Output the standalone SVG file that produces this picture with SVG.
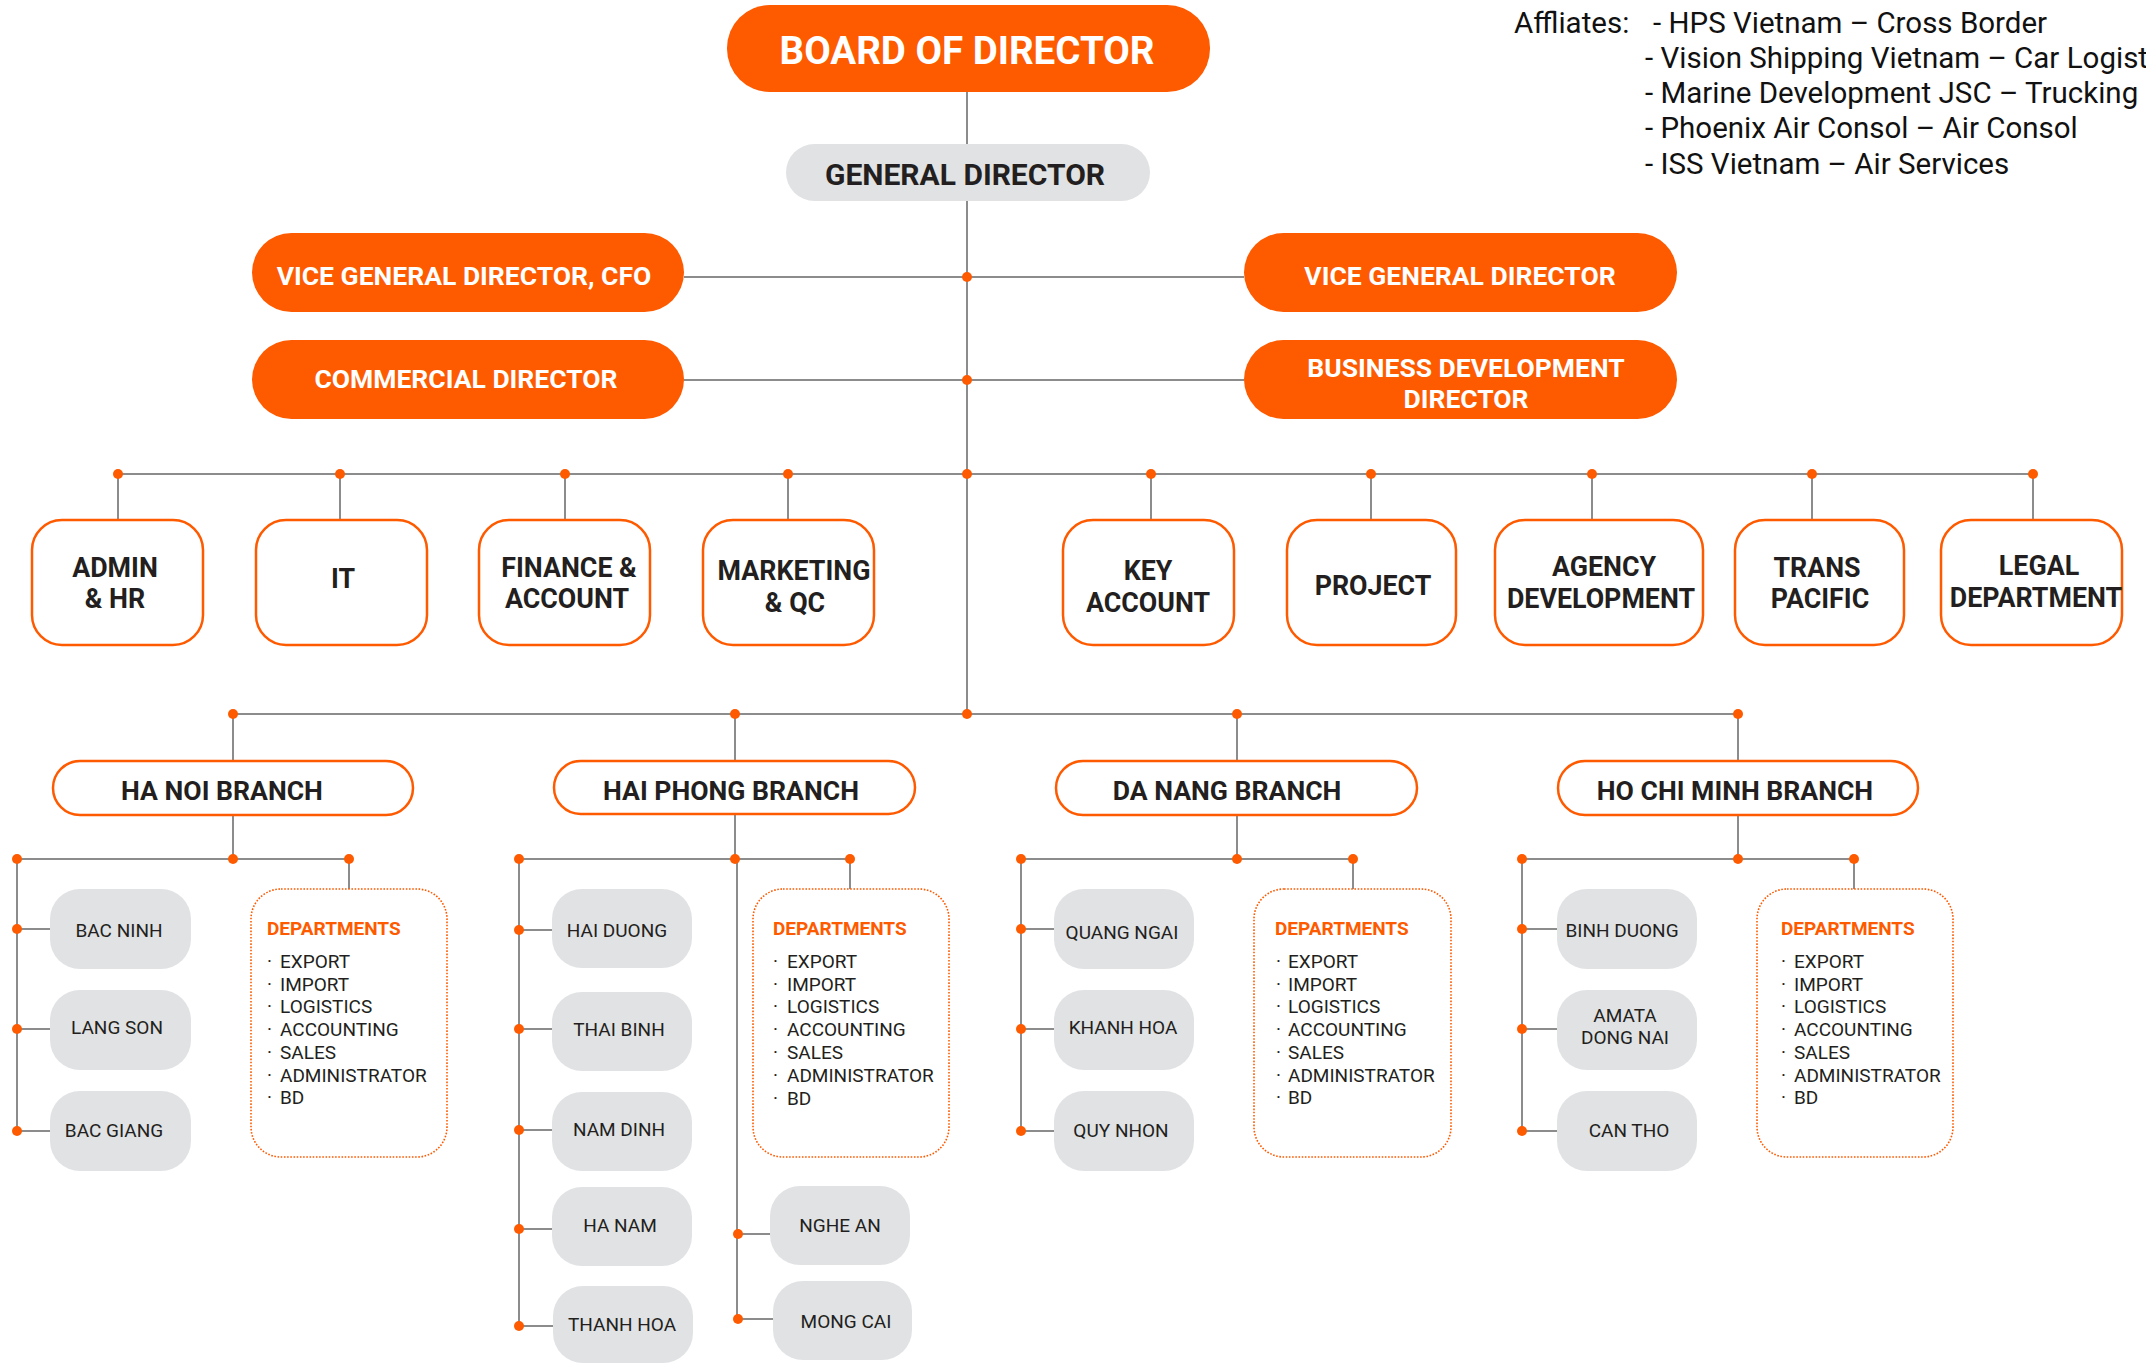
<svg xmlns="http://www.w3.org/2000/svg" width="2146" height="1363" viewBox="0 0 2146 1363">
<style>
text{font-family:Roboto,"Liberation Sans",Arial,sans-serif}
.bo{fill:#fe5a00}
.wt{font-weight:700;fill:#ffffff;text-anchor:middle}
.bt{font-weight:700;fill:#231f20;text-anchor:middle}
.ob{fill:#ffffff;stroke:#fe5a00;stroke-width:2.5}
.gb{fill:#e1e2e4}
.ct{font-size:19px;fill:#231f20;text-anchor:middle}
.db{fill:#ffffff;stroke:#fe5a00;stroke-width:1.6;stroke-dasharray:1.6 1.6}
.dh{font-size:19px;font-weight:700;fill:#fe5a00}
.dl{font-size:19px;fill:#231f20}
.ln{stroke:#8c8c8c;stroke-width:2;fill:none}
.dot{fill:#fe5a00}
.af{font-size:29.5px;fill:#111111}
.dp{font-size:26.8px}
.br{font-size:26.6px}
</style>
<rect width="2146" height="1363" fill="#ffffff"/>

<g id="connectors">
<path class="ln" d="M967 92V714"/>
<path class="ln" d="M684 277H1244M684 380H1244"/>
<path class="ln" d="M118 474H2034"/>
<path class="ln" d="M118 474V520M340 474V520M565 474V520M788 474V520M1151 474V520M1371 474V520M1592 474V520M1812 474V520M2033 474V520"/>
<path class="ln" d="M233 714H1738"/>
<path class="ln" d="M233 714V761M735 714V761M1237 714V761M1738 714V761"/>
<path class="ln" d="M233 815V859M17 859H349M349 859V889M17 859V1131M17 929H50M17 1029H50M17 1131H50"/>
<path class="ln" d="M735 814V859M519 859H850M850 859V889M519 859V1326M519 930H552M519 1029H552M519 1130H552M519 1229H552M519 1326H553M737 859V1319M737 1234H770M737 1319H773"/>
<path class="ln" d="M1237 815V859M1021 859H1353M1353 859V889M1021 859V1131M1021 929H1054M1021 1029H1054M1021 1131H1054"/>
<path class="ln" d="M1738 815V859M1522 859H1854M1854 859V889M1522 859V1131M1522 929H1557M1522 1029H1557M1522 1131H1557"/>
<g class="dot">
<circle cx="967" cy="277" r="5"/><circle cx="967" cy="380" r="5"/>
<circle cx="118" cy="474" r="5"/><circle cx="340" cy="474" r="5"/><circle cx="565" cy="474" r="5"/><circle cx="788" cy="474" r="5"/><circle cx="967" cy="474" r="5"/><circle cx="1151" cy="474" r="5"/><circle cx="1371" cy="474" r="5"/><circle cx="1592" cy="474" r="5"/><circle cx="1812" cy="474" r="5"/><circle cx="2033" cy="474" r="5"/>
<circle cx="233" cy="714" r="5"/><circle cx="735" cy="714" r="5"/><circle cx="967" cy="714" r="5"/><circle cx="1237" cy="714" r="5"/><circle cx="1738" cy="714" r="5"/>
<circle cx="17" cy="859" r="5"/><circle cx="233" cy="859" r="5"/><circle cx="349" cy="859" r="5"/><circle cx="17" cy="929" r="5"/><circle cx="17" cy="1029" r="5"/><circle cx="17" cy="1131" r="5"/>
<circle cx="519" cy="859" r="5"/><circle cx="735" cy="859" r="5"/><circle cx="850" cy="859" r="5"/><circle cx="519" cy="930" r="5"/><circle cx="519" cy="1029" r="5"/><circle cx="519" cy="1130" r="5"/><circle cx="519" cy="1229" r="5"/><circle cx="519" cy="1326" r="5"/><circle cx="738" cy="1234" r="5"/><circle cx="738" cy="1319" r="5"/>
<circle cx="1021" cy="859" r="5"/><circle cx="1237" cy="859" r="5"/><circle cx="1353" cy="859" r="5"/><circle cx="1021" cy="929" r="5"/><circle cx="1021" cy="1029" r="5"/><circle cx="1021" cy="1131" r="5"/>
<circle cx="1522" cy="859" r="5"/><circle cx="1738" cy="859" r="5"/><circle cx="1854" cy="859" r="5"/><circle cx="1522" cy="929" r="5"/><circle cx="1522" cy="1029" r="5"/><circle cx="1522" cy="1131" r="5"/>
</g>
</g>

<g id="board"><rect class="bo" x="727" y="5" width="483" height="87" rx="43"/><text class="wt" x="967" y="64" font-size="38.5">BOARD OF DIRECTOR</text></g>
<g id="general-director"><rect class="gb" x="786" y="144" width="364" height="57" rx="28.5"/><text class="bt" x="965" y="185" font-size="30">GENERAL DIRECTOR</text></g>
<g id="vgd-cfo"><rect class="bo" x="252" y="233" width="432" height="79" rx="39.5"/><text class="wt" x="464" y="285" font-size="26.5">VICE GENERAL DIRECTOR, CFO</text></g>
<g id="vgd"><rect class="bo" x="1244" y="233" width="433" height="79" rx="39.5"/><text class="wt" x="1460" y="285" font-size="26.5">VICE GENERAL DIRECTOR</text></g>
<g id="commercial-director"><rect class="bo" x="252" y="340" width="432" height="79" rx="39.5"/><text class="wt" x="466" y="388" font-size="26.5">COMMERCIAL DIRECTOR</text></g>
<g id="bd-director"><rect class="bo" x="1244" y="340" width="433" height="79" rx="39.5"/><text class="wt" font-size="26.5"><tspan x="1466" y="377">BUSINESS DEVELOPMENT</tspan><tspan x="1466" y="408">DIRECTOR</tspan></text></g>

<g id="admin-hr"><rect class="ob" x="32" y="520" width="171" height="125" rx="30"/><text class="bt dp"><tspan x="115" y="577">ADMIN</tspan><tspan x="115" y="608">&amp; HR</tspan></text></g>
<g id="it"><rect class="ob" x="256" y="520" width="171" height="125" rx="30"/><text class="bt dp" x="343" y="588">IT</text></g>
<g id="finance"><rect class="ob" x="479" y="520" width="171" height="125" rx="30"/><text class="bt dp"><tspan x="569" y="577">FINANCE &amp;</tspan><tspan x="567" y="608">ACCOUNT</tspan></text></g>
<g id="marketing"><rect class="ob" x="703" y="520" width="171" height="125" rx="30"/><text class="bt dp"><tspan x="794" y="580">MARKETING</tspan><tspan x="795" y="612">&amp; QC</tspan></text></g>
<g id="key-account"><rect class="ob" x="1063" y="520" width="171" height="125" rx="30"/><text class="bt dp"><tspan x="1148" y="580">KEY</tspan><tspan x="1148" y="612">ACCOUNT</tspan></text></g>
<g id="project"><rect class="ob" x="1287" y="520" width="169" height="125" rx="30"/><text class="bt dp" x="1373" y="595">PROJECT</text></g>
<g id="agency"><rect class="ob" x="1495" y="520" width="208" height="125" rx="30"/><text class="bt dp"><tspan x="1604" y="576">AGENCY</tspan><tspan x="1601" y="608">DEVELOPMENT</tspan></text></g>
<g id="trans-pacific"><rect class="ob" x="1735" y="520" width="169" height="125" rx="30"/><text class="bt dp"><tspan x="1817" y="577">TRANS</tspan><tspan x="1820" y="608">PACIFIC</tspan></text></g>
<g id="legal"><rect class="ob" x="1941" y="520" width="181" height="125" rx="30"/><text class="bt dp"><tspan x="2039" y="575">LEGAL</tspan><tspan x="2036" y="607">DEPARTMENT</tspan></text></g>

<g id="ha-noi-branch"><rect class="ob" x="53" y="761" width="360" height="54" rx="27"/><text class="bt br" x="222" y="800">HA NOI BRANCH</text></g>
<g id="hai-phong-branch"><rect class="ob" x="554" y="761" width="361" height="53" rx="26.5"/><text class="bt br" x="731" y="800">HAI PHONG BRANCH</text></g>
<g id="da-nang-branch"><rect class="ob" x="1056" y="761" width="361" height="54" rx="27"/><text class="bt br" x="1227" y="800">DA NANG BRANCH</text></g>
<g id="hcm-branch"><rect class="ob" x="1558" y="761" width="360" height="54" rx="27"/><text class="bt br" x="1735" y="800">HO CHI MINH BRANCH</text></g>

<g id="bac-ninh"><rect class="gb" x="50" y="889" width="141" height="80" rx="30"/><text class="ct" x="119" y="937">BAC NINH</text></g>
<g id="lang-son"><rect class="gb" x="50" y="990" width="141" height="80" rx="30"/><text class="ct" x="117" y="1034">LANG SON</text></g>
<g id="bac-giang"><rect class="gb" x="50" y="1091" width="141" height="80" rx="30"/><text class="ct" x="114" y="1137">BAC GIANG</text></g>
<g id="hn-departments"><rect class="db" x="251" y="889" width="196" height="268" rx="30"/>
<text class="dh" x="267" y="935">DEPARTMENTS</text>
<text class="dl"><tspan x="267" y="968">·</tspan><tspan x="280" y="968">EXPORT</tspan><tspan x="267" y="991">·</tspan><tspan x="280" y="991">IMPORT</tspan><tspan x="267" y="1013">·</tspan><tspan x="280" y="1013">LOGISTICS</tspan><tspan x="267" y="1036">·</tspan><tspan x="280" y="1036">ACCOUNTING</tspan><tspan x="267" y="1059">·</tspan><tspan x="280" y="1059">SALES</tspan><tspan x="267" y="1082">·</tspan><tspan x="280" y="1082">ADMINISTRATOR</tspan><tspan x="267" y="1104">·</tspan><tspan x="280" y="1104">BD</tspan></text></g>

<g id="hai-duong"><rect class="gb" x="552" y="889" width="140" height="79" rx="30"/><text class="ct" x="617" y="937">HAI DUONG</text></g>
<g id="thai-binh"><rect class="gb" x="552" y="992" width="140" height="79" rx="30"/><text class="ct" x="619" y="1036">THAI BINH</text></g>
<g id="nam-dinh"><rect class="gb" x="552" y="1092" width="140" height="79" rx="30"/><text class="ct" x="619" y="1136">NAM DINH</text></g>
<g id="ha-nam"><rect class="gb" x="552" y="1187" width="140" height="79" rx="30"/><text class="ct" x="620" y="1232">HA NAM</text></g>
<g id="thanh-hoa"><rect class="gb" x="553" y="1286" width="140" height="77" rx="30"/><text class="ct" x="622" y="1331">THANH HOA</text></g>
<g id="nghe-an"><rect class="gb" x="770" y="1186" width="140" height="79" rx="30"/><text class="ct" x="840" y="1232">NGHE AN</text></g>
<g id="mong-cai"><rect class="gb" x="773" y="1281" width="139" height="79" rx="30"/><text class="ct" x="846" y="1328">MONG CAI</text></g>
<g id="hp-departments"><rect class="db" x="753" y="889" width="196" height="268" rx="30"/>
<text class="dh" x="773" y="935">DEPARTMENTS</text>
<text class="dl"><tspan x="773" y="968">·</tspan><tspan x="787" y="968">EXPORT</tspan><tspan x="773" y="991">·</tspan><tspan x="787" y="991">IMPORT</tspan><tspan x="773" y="1013">·</tspan><tspan x="787" y="1013">LOGISTICS</tspan><tspan x="773" y="1036">·</tspan><tspan x="787" y="1036">ACCOUNTING</tspan><tspan x="773" y="1059">·</tspan><tspan x="787" y="1059">SALES</tspan><tspan x="773" y="1082">·</tspan><tspan x="787" y="1082">ADMINISTRATOR</tspan><tspan x="773" y="1105">·</tspan><tspan x="787" y="1105">BD</tspan></text></g>

<g id="quang-ngai"><rect class="gb" x="1054" y="889" width="140" height="80" rx="30"/><text class="ct" x="1122" y="939">QUANG NGAI</text></g>
<g id="khanh-hoa"><rect class="gb" x="1054" y="990" width="140" height="80" rx="30"/><text class="ct" x="1123" y="1034">KHANH HOA</text></g>
<g id="quy-nhon"><rect class="gb" x="1054" y="1091" width="140" height="80" rx="30"/><text class="ct" x="1121" y="1137">QUY NHON</text></g>
<g id="dn-departments"><rect class="db" x="1254" y="889" width="197" height="268" rx="30"/>
<text class="dh" x="1275" y="935">DEPARTMENTS</text>
<text class="dl"><tspan x="1276" y="968">·</tspan><tspan x="1288" y="968">EXPORT</tspan><tspan x="1276" y="991">·</tspan><tspan x="1288" y="991">IMPORT</tspan><tspan x="1276" y="1013">·</tspan><tspan x="1288" y="1013">LOGISTICS</tspan><tspan x="1276" y="1036">·</tspan><tspan x="1288" y="1036">ACCOUNTING</tspan><tspan x="1276" y="1059">·</tspan><tspan x="1288" y="1059">SALES</tspan><tspan x="1276" y="1082">·</tspan><tspan x="1288" y="1082">ADMINISTRATOR</tspan><tspan x="1276" y="1104">·</tspan><tspan x="1288" y="1104">BD</tspan></text></g>

<g id="binh-duong"><rect class="gb" x="1557" y="889" width="140" height="80" rx="30"/><text class="ct" x="1622" y="937">BINH DUONG</text></g>
<g id="amata-dong-nai"><rect class="gb" x="1557" y="990" width="140" height="80" rx="30"/><text class="ct"><tspan x="1625" y="1022">AMATA</tspan><tspan x="1625" y="1044">DONG NAI</tspan></text></g>
<g id="can-tho"><rect class="gb" x="1557" y="1091" width="140" height="80" rx="30"/><text class="ct" x="1629" y="1137">CAN THO</text></g>
<g id="hcm-departments"><rect class="db" x="1757" y="889" width="196" height="268" rx="30"/>
<text class="dh" x="1781" y="935">DEPARTMENTS</text>
<text class="dl"><tspan x="1781" y="968">·</tspan><tspan x="1794" y="968">EXPORT</tspan><tspan x="1781" y="991">·</tspan><tspan x="1794" y="991">IMPORT</tspan><tspan x="1781" y="1013">·</tspan><tspan x="1794" y="1013">LOGISTICS</tspan><tspan x="1781" y="1036">·</tspan><tspan x="1794" y="1036">ACCOUNTING</tspan><tspan x="1781" y="1059">·</tspan><tspan x="1794" y="1059">SALES</tspan><tspan x="1781" y="1082">·</tspan><tspan x="1794" y="1082">ADMINISTRATOR</tspan><tspan x="1781" y="1104">·</tspan><tspan x="1794" y="1104">BD</tspan></text></g>

<g id="affiliates">
<text class="af" x="1514" y="33">Affliates:</text>
<text class="af"><tspan x="1653" y="33">- HPS Vietnam – Cross Border</tspan><tspan x="1645" y="68">- Vision Shipping Vietnam – Car Logist</tspan><tspan x="1645" y="103">- Marine Development JSC – Trucking</tspan><tspan x="1645" y="138">- Phoenix Air Consol – Air Consol</tspan><tspan x="1645" y="174">- ISS Vietnam – Air Services</tspan></text>
</g>
</svg>
